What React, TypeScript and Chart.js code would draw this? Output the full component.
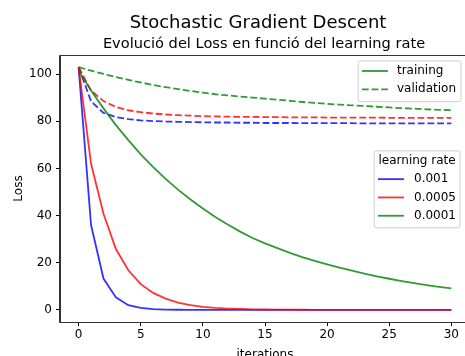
import React, { useEffect, useRef } from "react";
import { Chart, registerables } from "chart.js";

Chart.register(...registerables);

const iterations = [0, 1, 2, 3, 4, 5, 6, 7, 8, 9, 10, 11, 12, 13, 14, 15, 16, 17, 18, 19, 20, 21, 22, 23, 24, 25, 26, 27, 28, 29, 30];

const trainLr001 = [102.8, 36.0, 13.3, 5.3, 2.0, 0.8, 0.3, 0.12, 0.05, 0.02, 0.01, 0.005, 0.002, 0.001, 0, 0, 0, 0, 0, 0, 0, 0, 0, 0, 0, 0, 0, 0, 0, 0, 0];
const valLr001 = [103, 88.5, 83.6, 81.8, 80.9, 80.4, 80.1, 79.9, 79.8, 79.7, 79.6, 79.5, 79.5, 79.4, 79.4, 79.3, 79.3, 79.3, 79.2, 79.2, 79.2, 79.2, 79.2, 79.1, 79.1, 79.1, 79.1, 79.1, 79.1, 79.1, 79.1];

const trainLr0005 = [102.8, 62.0, 40.8, 25.8, 16.8, 10.9, 7.2, 4.8, 3.1, 2.0, 1.3, 0.85, 0.55, 0.36, 0.23, 0.15, 0.1, 0.06, 0.04, 0.03, 0.02, 0.01, 0.01, 0.005, 0.003, 0.002, 0.001, 0.001, 0, 0, 0];
const valLr0005 = [103, 93.0, 88.6, 86.1, 84.7, 83.9, 83.3, 82.9, 82.6, 82.4, 82.2, 82.1, 82.0, 81.9, 81.9, 81.8, 81.8, 81.7, 81.7, 81.7, 81.6, 81.6, 81.6, 81.6, 81.6, 81.5, 81.5, 81.5, 81.5, 81.5, 81.5];

const trainLr0001 = [101.5, 93.1, 85.5, 78.4, 72.0, 66.0, 60.6, 55.6, 51.0, 46.8, 43.0, 39.4, 36.2, 33.2, 30.5, 28.2, 26.2, 24.2, 22.4, 20.8, 19.3, 17.9, 16.6, 15.4, 14.2, 13.2, 12.2, 11.3, 10.5, 9.8, 9.1];
const valLr0001 = [103, 101.5, 100.1, 98.8, 97.6, 96.5, 95.4, 94.5, 93.7, 92.9, 92.2, 91.5, 91.0, 90.5, 90.1, 89.6, 89.2, 88.7, 88.2, 87.8, 87.4, 87.1, 86.8, 86.5, 86.2, 85.9, 85.6, 85.4, 85.1, 84.9, 84.7];

const xTicks = [0, 5, 10, 15, 20, 25, 30];
const yTicks = [0, 20, 40, 60, 80, 100];

const learningRates = ["0.001", "0.0005", "0.0001"];
const rateColors = ["rgba(0,0,255,0.8)", "rgba(255,0,0,0.8)", "rgba(0,128,0,0.8)"];
const styleLabels = ["training", "validation"];

const titleText = "Stochastic Gradient Descent";
const subtitleText = "Evolució del Loss en funció del learning rate";
const xLabel = "iterations";
const yLabel = "Loss";

const FONT = "'DejaVu Sans', sans-serif";
const DASH = [6.8, 2.9];

function pts(ys: number[]) {
  return iterations.map((x, i) => ({ x, y: ys[i] }));
}

function roundRect(ctx: CanvasRenderingContext2D, x: number, y: number, w: number, h: number, r: number) {
  ctx.beginPath();
  ctx.moveTo(x + r, y);
  ctx.lineTo(x + w - r, y);
  ctx.arcTo(x + w, y, x + w, y + r, r);
  ctx.lineTo(x + w, y + h - r);
  ctx.arcTo(x + w, y + h, x + w - r, y + h, r);
  ctx.lineTo(x + r, y + h);
  ctx.arcTo(x, y + h, x, y + h - r, r);
  ctx.lineTo(x, y + r);
  ctx.arcTo(x, y, x + r, y, r);
  ctx.closePath();
}

const decorPlugin = {
  id: "decor",
  afterDraw(chart: any) {
    const ctx: CanvasRenderingContext2D = chart.ctx;
    const ca = chart.chartArea;
    ctx.save();
    // frame
    ctx.strokeStyle = "#333";
    ctx.lineWidth = 1;
    ctx.beginPath();
    ctx.rect(Math.round(ca.left) - 0.5, Math.round(ca.top) + 0.5, ca.right - ca.left, ca.bottom - ca.top);
    ctx.stroke();

    // titles
    ctx.fillStyle = "#000";
    ctx.textAlign = "center";
    ctx.textBaseline = "alphabetic";
    ctx.font = `18px ${FONT}`;
    ctx.fillText(titleText, 258, 27.5);
    ctx.font = `14.6px ${FONT}`;
    ctx.fillText(subtitleText, (ca.left + ca.right) / 2 - 1, 47.7);

    // axis labels
    ctx.font = `12px ${FONT}`;
    ctx.fillText(xLabel, (ca.left + ca.right) / 2, 357.5);
    ctx.save();
    ctx.translate(21.5, (ca.top + ca.bottom) / 2);
    ctx.rotate(-Math.PI / 2);
    ctx.fillText(yLabel, 0, 0);
    ctx.restore();

    // legends
    const fs = 12;
    ctx.font = `${fs}px ${FONT}`;
    const rowH = 18.3;
    const padL = 3.8, handleL = 26, gap = 9, padR = 5;

    // legend 1: line styles
    {
      const tw = Math.max(...styleLabels.map((s) => ctx.measureText(s).width));
      const w = padL + handleL + gap + tw + padR;
      const right = ca.right - 9;
      const left = right - w;
      const top = ca.top + 6;
      const h = 10 + rowH * (styleLabels.length - 1) + 12.4;
      roundRect(ctx, left, top, w, h, 2.5);
      ctx.fillStyle = "rgba(255,255,255,0.8)";
      ctx.fill();
      ctx.strokeStyle = "#cccccc";
      ctx.lineWidth = 1;
      ctx.stroke();
      styleLabels.forEach((lab, i) => {
        const cy = top + 10 + i * rowH;
        ctx.strokeStyle = rateColors[2];
        ctx.lineWidth = 1.8;
        ctx.setLineDash(i === 1 ? DASH : []);
        ctx.beginPath();
        ctx.moveTo(left + padL, cy);
        ctx.lineTo(left + padL + handleL, cy);
        ctx.stroke();
        ctx.setLineDash([]);
        ctx.fillStyle = "#000";
        ctx.textAlign = "left";
        ctx.textBaseline = "middle";
        ctx.fillText(lab, left + padL + handleL + gap, cy);
      });
    }

    // legend 2: learning rate
    {
      const title = "learning rate";
      const tw = Math.max(...learningRates.map((s) => ctx.measureText(s).width));
      const titleW = ctx.measureText(title).width;
      const w = Math.max(padL + handleL + gap + tw + padR, titleW + 6);
      const right = ca.right - 10;
      const left = right - w;
      const h = 10 + rowH * learningRates.length + 12;
      const top = (ca.top + ca.bottom) / 2 - h / 2 + 0.8;
      roundRect(ctx, left, top, w, h, 2.5);
      ctx.fillStyle = "rgba(255,255,255,0.8)";
      ctx.fill();
      ctx.strokeStyle = "#cccccc";
      ctx.lineWidth = 1;
      ctx.stroke();
      ctx.fillStyle = "#000";
      ctx.textAlign = "center";
      ctx.textBaseline = "middle";
      ctx.fillText(title, left + w / 2, top + 10);
      learningRates.forEach((lab, i) => {
        const cy = top + 10 + (i + 1) * rowH;
        ctx.strokeStyle = rateColors[i];
        ctx.lineWidth = 1.8;
        ctx.beginPath();
        ctx.moveTo(left + padL, cy);
        ctx.lineTo(left + padL + handleL, cy);
        ctx.stroke();
        ctx.fillStyle = "#000";
        ctx.textAlign = "left";
        ctx.fillText(lab, left + padL + handleL + gap + 1, cy);
      });
    }
    ctx.restore();
  },
};

export default function App() {
  const ref = useRef<HTMLCanvasElement | null>(null);

  useEffect(() => {
    if (!ref.current) return;
    const series = [
      { data: trainLr001, color: rateColors[0], dash: [] as number[], order: 6 },
      { data: valLr001, color: rateColors[0], dash: DASH, order: 5 },
      { data: trainLr0005, color: rateColors[1], dash: [] as number[], order: 4 },
      { data: valLr0005, color: rateColors[1], dash: DASH, order: 3 },
      { data: trainLr0001, color: rateColors[2], dash: [] as number[], order: 2 },
      { data: valLr0001, color: rateColors[2], dash: DASH, order: 1 },
    ];
    const chart = new Chart(ref.current, {
      type: "line",
      data: {
        datasets: series.map((s) => ({
          data: pts(s.data),
          borderColor: s.color,
          backgroundColor: s.color,
          borderWidth: 1.8,
          borderDash: s.dash,
          pointRadius: 0,
          tension: 0,
          fill: false,
          order: s.order,
        })),
      },
      options: {
        responsive: false,
        animation: false,
        devicePixelRatio: 1,
        layout: { padding: { top: 55, left: 0, right: 0, bottom: 0 } },
        plugins: { legend: { display: false }, tooltip: { enabled: false }, title: { display: false } },
        scales: {
          x: {
            type: "linear",
            min: -1.5,
            max: 31.5,
            afterBuildTicks: (scale: any) => {
              scale.ticks = xTicks.map((v) => ({ value: v }));
            },
            afterFit: (scale: any) => {
              scale.height = 34;
            },
            ticks: {
              font: { family: FONT, size: 12 },
              color: "#000",
              padding: 2,
              maxRotation: 0,
              autoSkip: false,
            },
            grid: { drawOnChartArea: false, drawTicks: true, tickLength: 4, tickColor: "#000" },
            border: { display: true, color: "#333", width: 1 },
          },
          y: {
            type: "linear",
            min: -5.15,
            max: 108.15,
            afterBuildTicks: (scale: any) => {
              scale.ticks = yTicks.map((v) => ({ value: v }));
            },
            afterFit: (scale: any) => {
              scale.width = 60;
            },
            ticks: {
              font: { family: FONT, size: 12 },
              color: "#000",
              padding: 4,
              autoSkip: false,
            },
            grid: { drawOnChartArea: false, drawTicks: true, tickLength: 4, tickColor: "#000" },
            border: { display: true, color: "#333", width: 1 },
          },
        },
      },
      plugins: [decorPlugin],
    });
    return () => chart.destroy();
  }, []);

  return (
    <div style={{ position: "fixed", left: 0, top: 0, width: 465, height: 356, overflow: "hidden", background: "#fff" }}>
      <canvas ref={ref} width={470} height={356} style={{ display: "block", width: 470, height: 356 }} />
    </div>
  );
}
